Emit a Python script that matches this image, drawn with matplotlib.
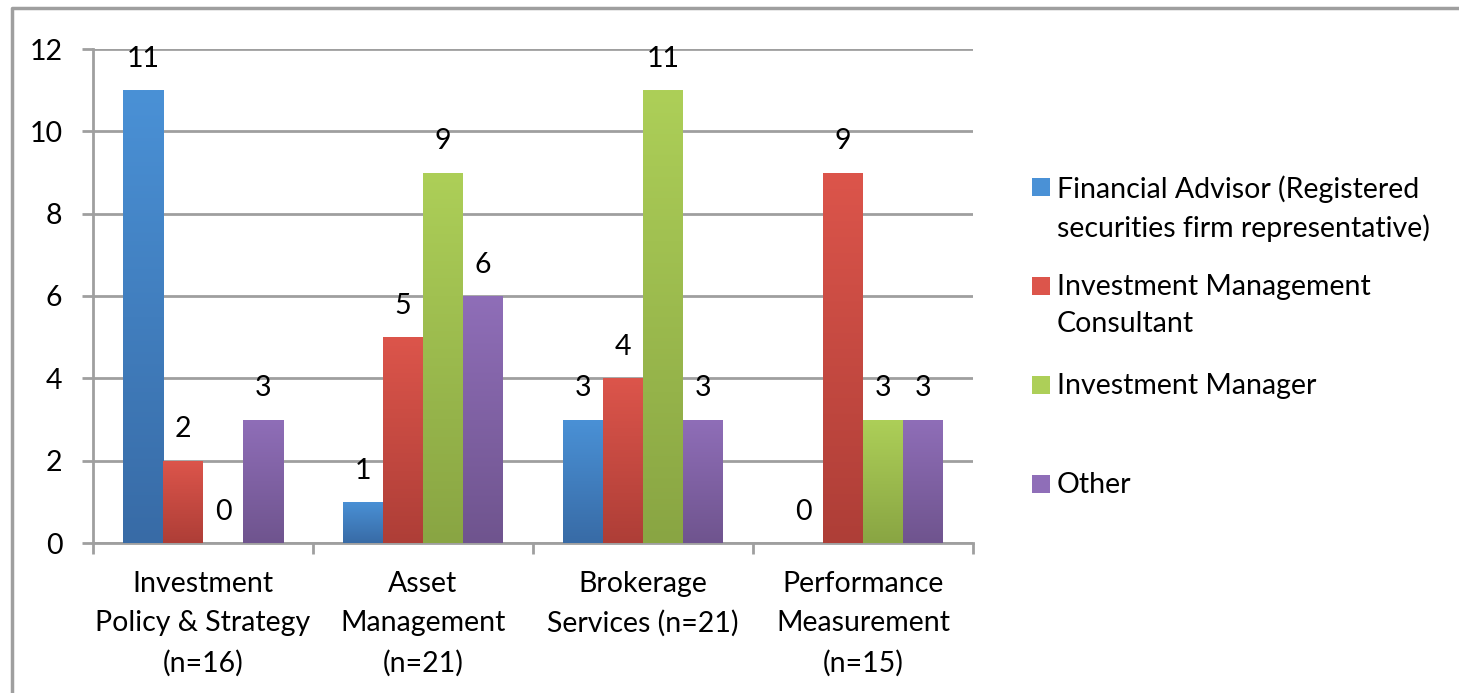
import matplotlib
matplotlib.use("Agg")
import matplotlib.pyplot as plt
import numpy as np
from matplotlib.colors import LinearSegmentedColormap
from matplotlib.patches import Rectangle
from matplotlib.lines import Line2D

plt.rcParams['font.family'] = ['Lato', 'DejaVu Sans']

categories = ["Investment\nPolicy & Strategy\n(n=16)", "Asset\nManagement\n(n=21)",
              "Brokerage\nServices (n=21)", "Performance\nMeasurement\n(n=15)"]
series = ["Financial Advisor (Registered\nsecurities firm representative)",
          "Investment Management\nConsultant",
          "Investment Manager",
          "Other"]
financial_advisor = [11, 1, 3, 0]
im_consultant = [2, 5, 4, 9]
im_manager = [0, 9, 11, 3]
other = [3, 6, 3, 3]
values = [financial_advisor, im_consultant, im_manager, other]

# (top, bottom) gradient colours
colors = [("#4A91D6", "#386BA6"),
          ("#DC554B", "#AE3E37"),
          ("#ADCF58", "#89A543"),
          ("#8F6EB8", "#6F548E")]

W, H, DPI = 1459, 693, 100
FS = 20.5
fig = plt.figure(figsize=(W / DPI, H / DPI), dpi=DPI)
ax = fig.add_axes([93 / W, 1 - 543 / H, 880 / W, 494 / H])

grid_c = "#9f9f9f"
bw = 40 / 220
x = np.arange(len(categories))
grad = np.linspace(0, 1, 256).reshape(-1, 1)

for i, (vals, (ctop, cbot)) in enumerate(zip(values, colors)):
    pos = x + (i - 1.5) * bw
    bars = ax.bar(pos, vals, width=bw, color=ctop, linewidth=0, zorder=3)
    cmap = LinearSegmentedColormap.from_list("g%d" % i, [cbot, ctop])
    for b, v in zip(bars, vals):
        if v > 0:
            x0 = b.get_x()
            im = ax.imshow(grad, cmap=cmap, origin="lower", aspect="auto",
                           extent=[x0, x0 + bw, 0, v], zorder=4)
            im.set_clip_path(b)
        ax.text(b.get_x() + bw / 2, v + 0.76, str(v), ha="center", va="center",
                fontsize=FS, color="black", zorder=5)

ax.set_xlim(-0.5, len(categories) - 0.5)
ax.set_ylim(0, 12)
ax.set_yticks(range(0, 13, 2))
ax.yaxis.grid(True, color=grid_c, linewidth=2, zorder=0)
ax.set_axisbelow(True)
ax.set_xticks(np.arange(-0.5, len(categories), 1))
ax.set_xticklabels([])
ax.set_xticks(x, minor=True)
ax.set_xticklabels(categories, minor=True, fontsize=FS, linespacing=1.62)
ax.tick_params(axis="x", which="minor", length=0, pad=20)
ax.tick_params(axis="x", which="major", length=8, width=2, color=grid_c)
ax.tick_params(axis="y", length=8, width=2, color=grid_c, labelsize=FS, pad=14)
for s in ["top", "right"]:
    ax.spines[s].set_visible(False)
for s in ["left", "bottom"]:
    ax.spines[s].set_color(grid_c)
    ax.spines[s].set_linewidth(2)

# legend
ys = [187, 286, 385, 484]
for (ctop, cbot), lab, yc in zip(colors, series, ys):
    fig.patches.append(Rectangle((1032 / W, 1 - (yc + 9) / H), 18 / W, 18 / H,
                                 transform=fig.transFigure, facecolor=ctop,
                                 edgecolor="none"))
    fig.text(1057 / W, 1 - (yc - 12) / H, lab, ha="left", va="top",
             fontsize=FS, linespacing=1.52)

# outer border (only top and left edges show)
fig.lines.append(Line2D([12 / W, 12 / W, 1.0], [0.0, 1 - 8 / H, 1 - 8 / H],
                        transform=fig.transFigure, color=grid_c, linewidth=2.5))

fig.savefig("out.png", dpi=DPI)
